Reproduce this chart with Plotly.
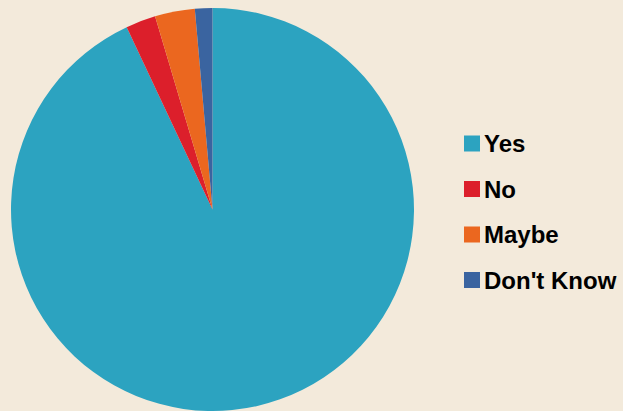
import plotly.graph_objects as go

labels = ["Yes", "No", "Maybe", "Don't Know"]
values = [93.0, 2.4, 3.2, 1.4]
colors = ["#2CA3C0", "#DC1F2B", "#EB671F", "#3A64A0"]

W, H = 623, 411
BG = "#F3EADB"

fig = go.Figure(go.Pie(
    labels=labels,
    values=values,
    marker=dict(colors=colors, line=dict(width=0)),
    sort=False,
    direction="clockwise",
    rotation=0,
    textinfo="none",
    hoverinfo="label+percent",
    showlegend=False,
    domain=dict(x=[11 / W, 414 / W], y=[0, 403 / H]),
))

annotations = []
shapes = []
x_sq0, x_sq1 = 464, 480
x_txt = 482
y_first, y_step = 143.5, 45.5
for i, (lab, col) in enumerate(zip(labels, colors)):
    yc = y_first + i * y_step
    shapes.append(dict(type="rect", xref="paper", yref="paper",
                       x0=x_sq0 / W, x1=x_sq1 / W,
                       y0=1 - (yc + 8) / H, y1=1 - (yc - 8) / H,
                       fillcolor=col, line=dict(width=0)))
    annotations.append(dict(text=lab, xref="paper", yref="paper",
                            x=x_txt / W, y=1 - yc / H,
                            xanchor="left", yanchor="middle", showarrow=False,
                            font=dict(family="Liberation Sans, Arial", size=24,
                                      color="black", weight="bold")))

fig.update_layout(
    width=W, height=H,
    margin=dict(l=0, r=0, t=0, b=0),
    paper_bgcolor=BG, plot_bgcolor=BG,
    annotations=annotations, shapes=shapes,
)

fig.write_html("out.html")
